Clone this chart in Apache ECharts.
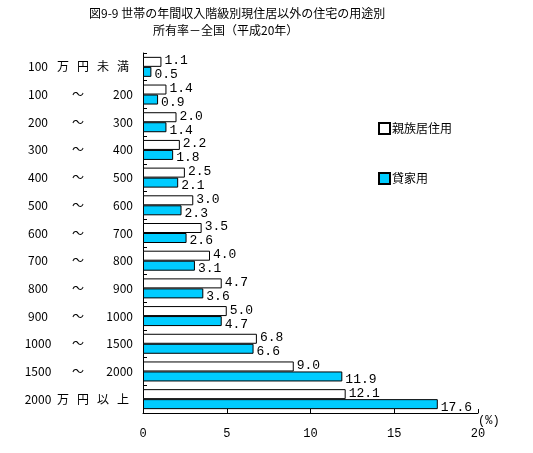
<!DOCTYPE html>
<html><head><meta charset="utf-8">
<script src="https://cdn.jsdelivr.net/npm/echarts@6/dist/echarts.min.js"></script>
<style>html,body{margin:0;padding:0;background:#fff}#c{width:533px;height:453px}</style>
</head><body><div id="c"></div>
<script>
const titleLine1 = '図9-9 世帯の年間収入階級別現住居以外の住宅の用途別';
const titleLine2 = '所有率－全国（平成20年）';
const categories = ['100万円未満','100～200','200～300','300～400','400～500','500～600','600～700','700～800','800～900','900～1000','1000～1500','1500～2000','2000万円以上'];
const seriesNames = ['親族居住用','貸家用'];
const relativesUse = [1.1,1.4,2.0,2.2,2.5,3.0,3.5,4.0,4.7,5.0,6.8,9.0,12.1];
const rentalUse = [0.5,0.9,1.4,1.8,2.1,2.3,2.6,3.1,3.6,4.7,6.6,11.9,17.6];
const xTicks = [0,5,10,15,20];

const jp = '"Noto Sans CJK JP", sans-serif';
const mono = '"Liberation Mono", monospace';

function catFormatter(v){
  if (v.indexOf('～') >= 0){
    const p = v.split('～');
    return '{n|' + p[0] + '}{t|～}{m|' + p[1] + '}';
  }
  const m = v.match(/^(\d+)(.+)$/);
  let s = '{n|' + m[1] + '}';
  for (const ch of m[2]) s += '{k|' + ch + '}';
  return s;
}

const chart = echarts.init(document.getElementById('c'), null, {renderer:'canvas'});
chart.setOption({
  animation:false,
  backgroundColor:'#fff',
  title:[
    {text:titleLine1, left:84, top:2, padding:[5,5,5,5], textStyle:{fontSize:12, fontWeight:'normal', color:'#000', fontFamily:jp}},
    {text:titleLine2, left:148, top:19, padding:[5,5,5,5], textStyle:{fontSize:12, fontWeight:'normal', color:'#000', fontFamily:jp}}
  ],
  legend:[
    {data:[seriesNames[0]], left:378, top:122, padding:0, orient:'vertical', itemWidth:11, itemHeight:11, itemGap:0,
     icon:'rect', textStyle:{fontSize:12, color:'#000', fontFamily:jp, padding:[0,0,0,-3]}},
    {data:[seriesNames[1]], left:378, top:172, padding:0, orient:'vertical', itemWidth:11, itemHeight:11, itemGap:0,
     icon:'rect', textStyle:{fontSize:12, color:'#000', fontFamily:jp, padding:[0,0,0,-3]}}
  ],
  grid:{left:143, right:55, top:53, bottom:40, containLabel:false},
  xAxis:{
    type:'value', min:xTicks[0], max:xTicks[xTicks.length-1], interval:5,
    axisLine:{show:true, lineStyle:{color:'#000', width:1}},
    axisTick:{show:true, inside:true, length:4, lineStyle:{color:'#000'}},
    splitLine:{show:false},
    axisLabel:{margin:15, fontSize:12, color:'#000', fontFamily:mono}
  },
  yAxis:{
    type:'category', data:categories, inverse:true,
    axisLine:{show:true, lineStyle:{color:'#000', width:1}},
    axisTick:{show:true, inside:true, length:4, lineStyle:{color:'#000'}},
    axisLabel:{
      margin:10, color:'#000', fontSize:12, fontFamily:jp,
      formatter:catFormatter,
      rich:{
        n:{width:30, align:'right', fontSize:12, fontFamily:jp, color:'#000'},
        t:{width:50, align:'center', fontSize:12, fontFamily:jp, color:'#000'},
        m:{width:30, align:'right', fontSize:12, fontFamily:jp, color:'#000'},
        k:{width:20, align:'center', fontSize:12, fontFamily:jp, color:'#000'}
      }
    }
  },
  series:[
    {name:seriesNames[0], type:'bar', data:relativesUse, barWidth:10, barGap:'0%',
     itemStyle:{color:'#ffffff', borderColor:'#000', borderWidth:1},
     label:{show:true, position:'right', distance:3, offset:[0,-1], fontSize:13, fontFamily:mono, color:'#000',
       formatter:p=>p.value.toFixed(1)}},
    {name:seriesNames[1], type:'bar', data:rentalUse, barWidth:10, barGap:'0%',
     itemStyle:{color:'#00ccff', borderColor:'#000', borderWidth:1},
     label:{show:true, position:'right', distance:3, offset:[0,3], fontSize:13, fontFamily:mono, color:'#000',
       formatter:p=>p.value.toFixed(1)}}
  ],
  graphic:[
    {type:'text', left:478, top:415, style:{text:'(%)', fontSize:12, fontFamily:mono, fill:'#000'}}
  ]
});
</script></body></html>
